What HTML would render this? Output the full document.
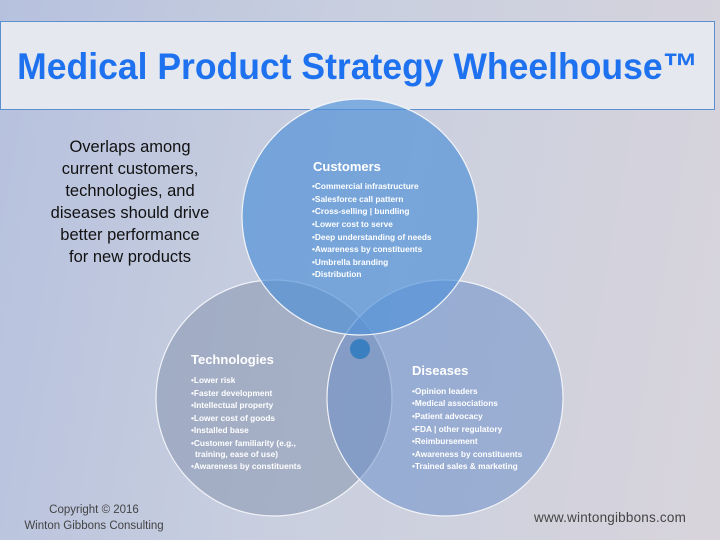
<!DOCTYPE html>
<html><head><meta charset="utf-8"><style>
body{margin:0;width:720px;height:540px;overflow:hidden;font-family:"Liberation Sans",sans-serif;}
.bg{position:absolute;left:0;top:0;width:720px;height:540px;background:linear-gradient(100deg,#b6c1de 0%,#c9cfdf 45%,#d8d4dc 100%);}
.title{position:absolute;left:0;top:21px;width:715px;height:89px;background:#e5e9ef;border:1px solid #5b8fd0;box-sizing:border-box;text-align:center;line-height:89px;color:#1f72ef;}
.title span{display:inline-block;font-size:37px;font-weight:bold;transform:scaleX(0.96);transform-origin:center;white-space:nowrap;}
.t{position:absolute;font-family:"Liberation Sans",sans-serif;}
</style></head><body>
<div class="bg"></div>
<div class="title"><span>Medical Product Strategy Wheelhouse™</span></div>
<div class="t" style="left:10px;top:136px;width:240px;text-align:center;font-size:16.5px;line-height:22px;color:#111;">Overlaps among<br>current customers,<br>technologies, and<br>diseases should drive<br>better performance<br>for new products</div>
<svg width="720" height="540" style="position:absolute;left:0;top:0">
<circle cx="274" cy="398" r="118" fill="rgba(135,150,175,0.55)" stroke="#f2f4f8" stroke-width="1.2"/>
<circle cx="445" cy="398" r="118" fill="rgba(100,138,200,0.5)" stroke="#f2f4f8" stroke-width="1.2"/>
<circle cx="360" cy="217" r="118" fill="rgba(80,145,215,0.68)" stroke="#f2f4f8" stroke-width="1.2"/>
<circle cx="360" cy="349" r="10" fill="#3a7fc0"/>
<g font-family="Liberation Sans, sans-serif" fill="#fff" font-weight="bold">
<text x="313" y="171" font-size="13">Customers</text>
<g font-size="8.3">
<text x="312" y="189">•Commercial infrastructure</text>
<text x="312" y="202">•Salesforce call pattern</text>
<text x="312" y="214">•Cross-selling | bundling</text>
<text x="312" y="227">•Lower cost to serve</text>
<text x="312" y="240">•Deep understanding of needs</text>
<text x="312" y="252">•Awareness by constituents</text>
<text x="312" y="265">•Umbrella branding</text>
<text x="312" y="277">•Distribution</text>
</g>
<text x="191" y="364" font-size="13">Technologies</text>
<g font-size="8.3">
<text x="191" y="383">•Lower risk</text>
<text x="191" y="396">•Faster development</text>
<text x="191" y="408">•Intellectual property</text>
<text x="191" y="421">•Lower cost of goods</text>
<text x="191" y="433">•Installed base</text>
<text x="191" y="446">•Customer familiarity (e.g.,</text>
<text x="195" y="457">training, ease of use)</text>
<text x="191" y="469">•Awareness by constituents</text>
</g>
<text x="412" y="375" font-size="13">Diseases</text>
<g font-size="8.3">
<text x="412" y="394">•Opinion leaders</text>
<text x="412" y="406">•Medical associations</text>
<text x="412" y="419">•Patient advocacy</text>
<text x="412" y="432">•FDA | other regulatory</text>
<text x="412" y="444">•Reimbursement</text>
<text x="412" y="457">•Awareness by constituents</text>
<text x="412" y="469">•Trained sales &amp; marketing</text>
</g>
</g>
</svg>
<div class="t" style="left:14px;top:502px;width:160px;text-align:center;font-size:11.5px;line-height:16px;color:#444;">Copyright © 2016<br>Winton Gibbons Consulting</div>
<div class="t" style="left:534px;top:510px;font-size:13.5px;color:#444;letter-spacing:0.2px;">www.wintongibbons.com</div>
</body></html>
